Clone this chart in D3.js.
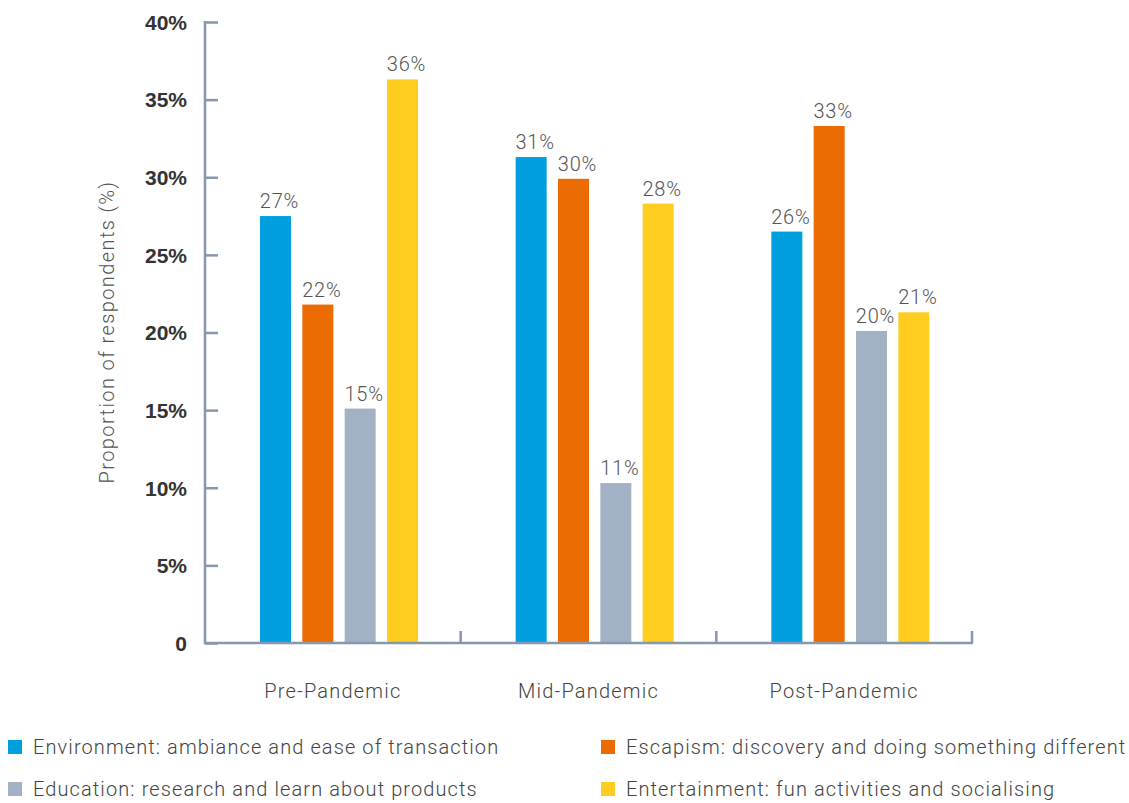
<!DOCTYPE html>
<html>
<head>
<meta charset="utf-8">
<script src="https://cdn.jsdelivr.net/npm/d3@7"></script>
<style>
  body { margin: 0; background: #fff; }
  svg text { font-family: Roboto, "Liberation Sans", sans-serif; }
</style>
</head>
<body>
<div id="chart"></div>
<script>
// categories and series
var periods = ["Pre-Pandemic", "Mid-Pandemic", "Post-Pandemic"];
var seriesNames = [
  "Environment: ambiance and ease of transaction",
  "Escapism: discovery and doing something different",
  "Education: research and learn about products",
  "Entertainment: fun activities and socialising"
];
// values per series, one per period (%)
var environment = [27.5, 31.3, 26.5];
var escapism = [21.8, 29.9, 33.3];
var education = [15.1, 10.3, 20.1];
var entertainment = [36.3, 28.3, 21.3];
// printed labels
var environmentLabels = ["27%", "31%", "26%"];
var escapismLabels = ["22%", "30%", "33%"];
var educationLabels = ["15%", "11%", "20%"];
var entertainmentLabels = ["36%", "28%", "21%"];
var yTicks = [0, 5, 10, 15, 20, 25, 30, 35, 40];

var colors = ["#009fe0", "#ec6c04", "#a3b1c4", "#ffcd20"];
var values = [environment, escapism, education, entertainment];
var labels = [environmentLabels, escapismLabels, educationLabels, entertainmentLabels];
var axisColor = "#8797ad";

var w = 1129, h = 803;
var m = {left: 205, right: 972, top: 22, bottom: 643};

var svg = d3.select("#chart").append("svg")
  .attr("width", w)
  .attr("height", h);

// scales
var x0 = d3.scaleBand().domain(periods).range([m.left, m.right]).padding(0);
var x1 = d3.scaleBand().domain(d3.range(4)).range([55, 213]).paddingInner(0.268).paddingOuter(0);
var y = d3.scaleLinear().domain([0, 40]).range([m.bottom, m.top]);

// build table for the bars
var table = [];
periods.forEach(function(p, i) {
  values.forEach(function(s, k) {
    table.push({period: p, key: k, value: s[i], label: labels[k][i]});
  });
});

// bars
svg.append("g").selectAll("rect")
  .data(table)
  .enter().append("rect")
  .attr("x", function(d) { return x0(d.period) + x1(d.key); })
  .attr("y", function(d) { return y(d.value); })
  .attr("width", x1.bandwidth())
  .attr("height", function(d) { return m.bottom - y(d.value); })
  .attr("fill", function(d) { return colors[d.key]; });

// value labels
svg.append("g").selectAll("text")
  .data(table)
  .enter().append("text")
  .attr("x", function(d) { return x0(d.period) + x1(d.key) + x1.bandwidth() / 2 + 4; })
  .attr("y", function(d) { return y(d.value) - 8; })
  .attr("text-anchor", "middle")
  .style("font-size", "20px")
  .style("font-weight", 300)
  .style("letter-spacing", "0.8px")
  .attr("fill", "#555")
  .text(function(d) { return d.label; });

// y axis
var yAxis = svg.append("g")
  .attr("transform", "translate(" + m.left + ",0)")
  .call(d3.axisRight(y).tickValues(yTicks).tickSize(13)
    .tickFormat(function(d) { return d === 0 ? "0" : d + "%"; }));
yAxis.select(".domain").remove();
yAxis.selectAll(".tick line").attr("stroke", axisColor).attr("stroke-width", 2.5);
yAxis.selectAll(".tick text")
  .attr("x", -18)
  .attr("text-anchor", "end")
  .attr("dy", "0.35em")
  .attr("fill", "#333")
  .style("font-family", "'Liberation Sans', Arial, sans-serif")
  .style("font-size", "21px")
  .style("font-weight", "bold");
svg.append("line")
  .attr("x1", m.left).attr("x2", m.left)
  .attr("y1", m.top - 1).attr("y2", m.bottom + 1)
  .attr("stroke", axisColor).attr("stroke-width", 2.5);

// x axis
svg.append("line")
  .attr("x1", m.left - 1).attr("x2", m.right + 1)
  .attr("y1", m.bottom).attr("y2", m.bottom)
  .attr("stroke", axisColor).attr("stroke-width", 2.5);
svg.append("g").selectAll("line")
  .data(periods)
  .enter().append("line")
  .attr("x1", function(d) { return x0(d) + x0.bandwidth(); })
  .attr("x2", function(d) { return x0(d) + x0.bandwidth(); })
  .attr("y1", m.bottom).attr("y2", m.bottom - 12)
  .attr("stroke", axisColor).attr("stroke-width", 2.5);

// category labels
svg.append("g").selectAll("text")
  .data(periods)
  .enter().append("text")
  .attr("x", function(d) { return x0(d) + x0.bandwidth() / 2; })
  .attr("y", 698)
  .attr("text-anchor", "middle")
  .style("font-size", "20px")
  .style("font-weight", 300)
  .style("letter-spacing", "1.2px")
  .attr("fill", "#444")
  .text(function(d) { return d; });

// y axis title
svg.append("text")
  .attr("transform", "translate(114,332) rotate(-90)")
  .attr("text-anchor", "middle")
  .style("font-size", "20px")
  .style("font-weight", 300)
  .style("letter-spacing", "1.4px")
  .attr("fill", "#555")
  .text("Proportion of respondents (%)");

// legend
var legend = svg.append("g").selectAll("g")
  .data(seriesNames)
  .enter().append("g")
  .attr("transform", function(d, i) {
    return "translate(" + (i % 2 === 0 ? 8 : 601) + "," + (i < 2 ? 740 : 782) + ")";
  });
legend.append("rect")
  .attr("width", 14).attr("height", 14)
  .attr("fill", function(d, i) { return colors[i]; });
legend.append("text")
  .attr("x", 25)
  .attr("y", 7)
  .attr("dy", "0.35em")
  .style("font-size", "20px")
  .style("font-weight", 300)
  .style("letter-spacing", "1.1px")
  .attr("fill", "#444")
  .text(function(d) { return d; });
</script>
</body>
</html>
